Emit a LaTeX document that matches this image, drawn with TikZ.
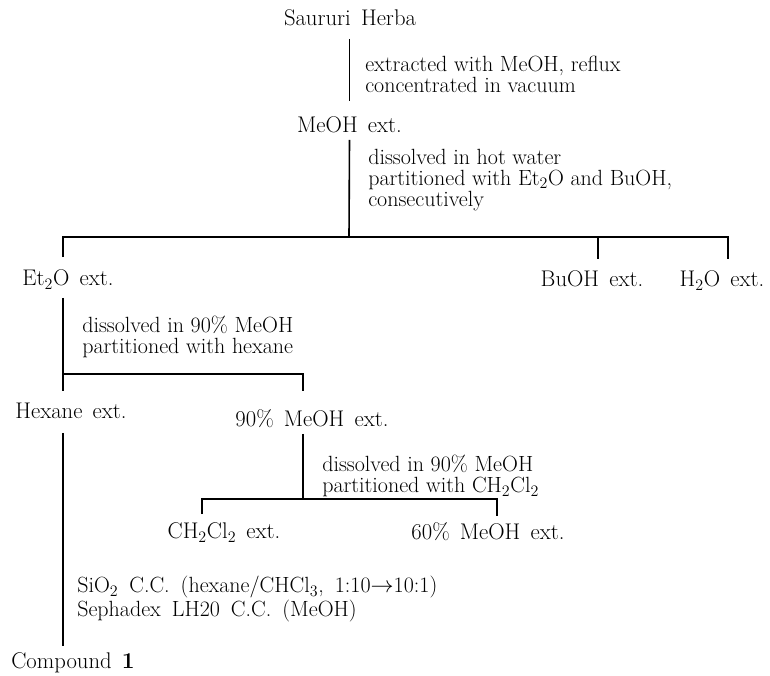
\documentclass[tikz,border=0pt]{standalone}
\usetikzlibrary{calc,positioning}
\newcommand\widesp[1]{\spaceskip #1 plus 0.1em\relax}
\begin{document}
\begin{tikzpicture}[x=0.75pt,y=-0.75pt]
  \tikzstyle{txt}=[inner sep=0pt, text height=11.5pt, text depth=0pt, font={\fontsize{17}{16}\selectfont\widesp{0.45em}}]
  \tikzstyle{lab}=[inner sep=0pt, anchor=west, align=left, font={\fontsize{16.5}{15.75}\selectfont}]
  \tikzstyle{dep}=[draw=black, line width=1.2pt]
  \useasboundingbox (0,0) rectangle (770,675);

  \node [txt] (herba) at (350,18) {Saururi Herba};
  \node [txt] (meoh) at (349.5,125) {MeOH ext.};
  \node [txt] (et2o) at (68,278) {Et$_2$O ext.};
  \node [txt] (buoh) at (592,279) {BuOH ext.};
  \node [txt] (h2o) at (722,279) {H$_2$O ext.};
  \node [txt] (hexane) at (71,411) {Hexane ext.};
  \node [txt] (meoh90) at (312,419) {90\% MeOH ext.};
  \node [txt] (ch2cl2) at (224,531) {CH$_2$Cl$_2$ ext.};
  \node [txt] (meoh60) at (488,532) {60\% MeOH ext.};
  \node [txt] (cpd) at (73,661) {Compound \textbf{1}};

  \node [lab] (s1) at (365,74) {extracted with MeOH, reflux\\concentrated in vacuum};
  \node [lab] (s2) at (368,180) {dissolved in hot water\\partitioned with Et$_2$O and BuOH,\\consecutively};
  \node [lab] (s3) at (82,337) {dissolved in 90\% MeOH\\partitioned with hexane};
  \node [lab] (s4) at (322,476) {dissolved in 90\% MeOH\\partitioned with CH$_2$Cl$_2$};
  \node [lab, font={\fontsize{16.5}{15.75}\selectfont\widesp{0.5em}}] (s5) at (77,599) {SiO$_2$ C.C. (hexane/CHCl$_3$, 1:10$\to$10:1)\\Sephadex LH20 C.C. (MeOH)};

  \coordinate (j1) at (349,237);
  \coordinate (j2) at (63,374);
  \coordinate (j3) at (303,499);

  \draw [dep] ($(herba.south -| meoh)+(0,13)$) -- ($(meoh.north)+(0,-16)$);
  \draw [dep] ($(meoh.south)+(0,7)$) -- (j1);
  \draw [dep] ($(et2o.north)+(-5,-13)$) |- (j1) -| ($(h2o.north)+(6,-12)$);
  \draw [dep] (j1) -| ($(buoh.north)+(6,-12)$);
  \draw [dep] ($(et2o.south)+(-5,12)$) -- ($(hexane.north)+(-8,-12)$);
  \draw [dep] (j2) -| ($(meoh90.north)+(-9,-20)$);
  \draw [dep] ($(hexane.south)+(-8,14)$) -- ($(cpd.north)+(-10,-7)$);
  \draw [dep] ($(meoh90.south)+(-9,7)$) -- (j3);
  \draw [dep] ($(ch2cl2.north)+(-22,-9)$) |- (j3) -| ($(meoh60.north)+(9,-8)$);
\end{tikzpicture}
\end{document}
